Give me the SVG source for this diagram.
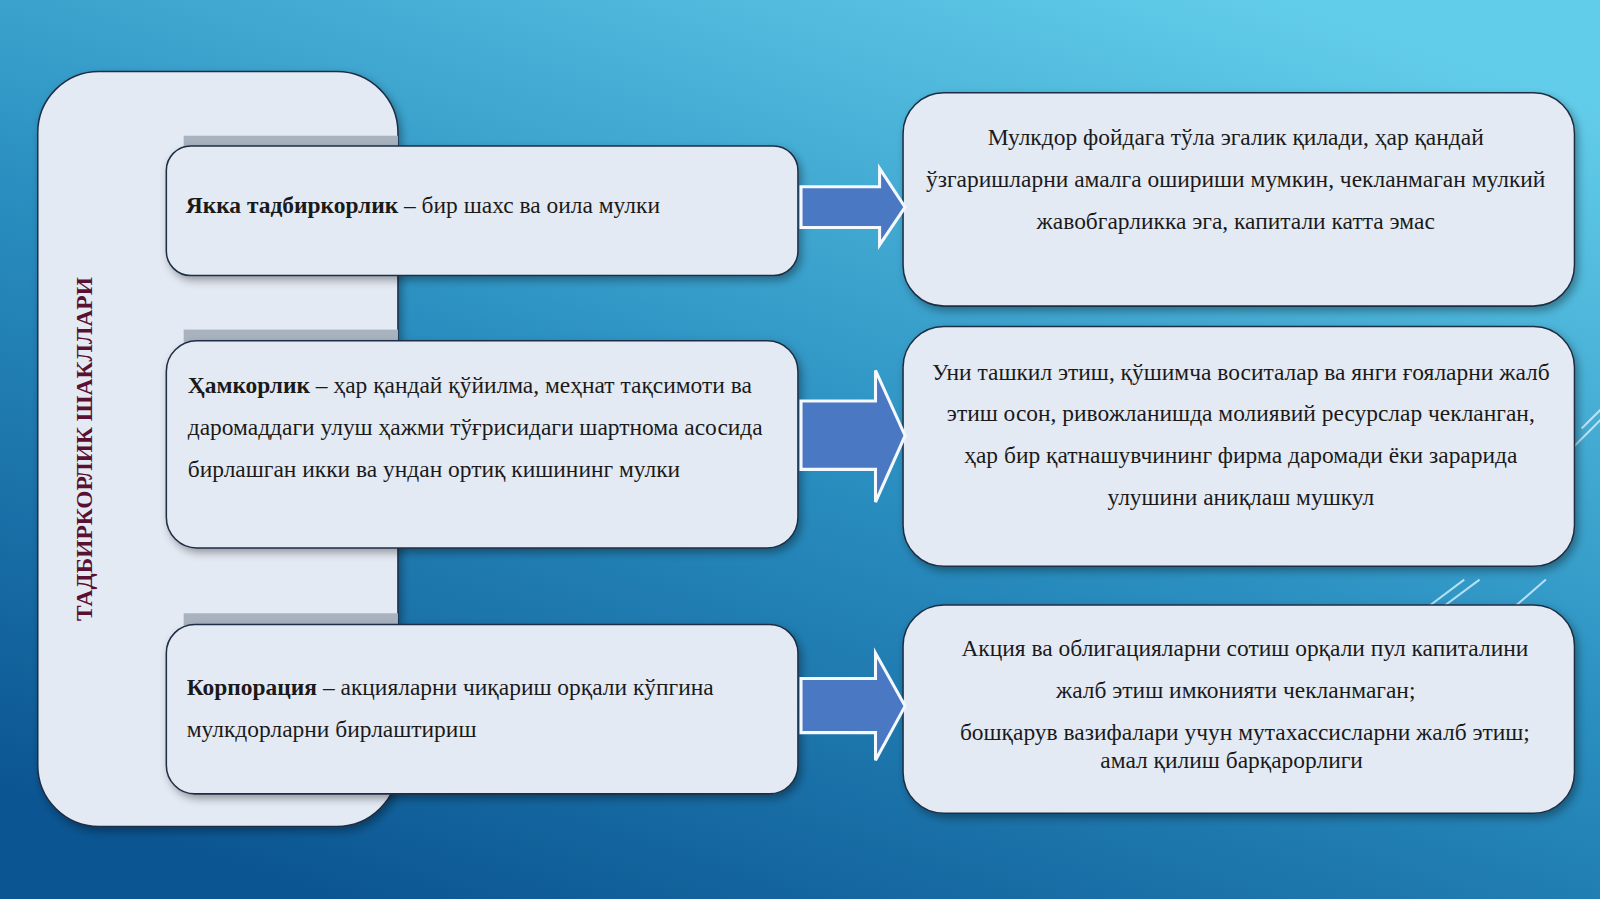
<svg xmlns="http://www.w3.org/2000/svg" width="1600" height="899" viewBox="0 0 1600 899">
<defs>
<linearGradient id="bg" x1="0.2" y1="1" x2="0.8" y2="0">
<stop offset="0" stop-color="#0b5592"/>
<stop offset="0.5" stop-color="#2a8fc0"/>
<stop offset="1" stop-color="#62cdea"/>
</linearGradient>
<filter id="sh" x="-10%" y="-10%" width="120%" height="120%"><feDropShadow dx="3" dy="4" stdDeviation="4" flood-color="#000" flood-opacity="0.35"/></filter>
</defs>
<style>
.box{fill:#e4eaf4;stroke:#1f2f45;stroke-width:1.5;filter:url(#sh)}
.arr{fill:#4b78c2;stroke:#f4f8ff;stroke-width:3}
text{font-family:"Liberation Serif","DejaVu Serif",serif;font-size:23px;fill:#1a1a1a}
.c{text-anchor:middle}
.deco{stroke:#d8f2ff;stroke-width:2;opacity:0.8}
</style>
<rect width="1600" height="899" fill="url(#bg)"/>
<g transform="scale(1.0204)">
<g id="decor">
<line class="deco" x1="1540" y1="440" x2="1600" y2="380"/>
<line class="deco" x1="1550" y1="420" x2="1600" y2="370"/>
<line class="deco" x1="1580" y1="470" x2="1600" y2="450"/>
<line class="deco" x1="1407" y1="600" x2="1450" y2="568"/>
<line class="deco" x1="1395" y1="598" x2="1435" y2="568"/>
<line class="deco" x1="1478" y1="600" x2="1515" y2="568"/>
</g>
<g id="left-panel">
<rect class="box" x="37" y="70" width="353" height="740" rx="60"/>
<rect x="180" y="133" width="210" height="12" fill="#a9b3c0"/>
<rect x="180" y="323" width="210" height="12" fill="#a9b3c0"/>
<rect x="180" y="601" width="210" height="12" fill="#a9b3c0"/>
<text transform="translate(90,440) rotate(-90)" class="c" style="font-weight:bold;fill:#5a1030;font-size:23px">ТАДБИРКОРЛИК ШАКЛЛАРИ</text>
</g>
<g id="node-yakka">
<rect class="box" x="163" y="143" width="619" height="127" rx="24"/>
<text x="182" y="209"><tspan font-weight="bold">Якка тадбиркорлик</tspan> – бир шахс ва оила мулки</text>
</g>
<g id="node-hamkorlik">
<rect class="box" x="163" y="334" width="619" height="203" rx="30"/>
<text x="184" y="385"><tspan font-weight="bold">Ҳамкорлик</tspan> – ҳар қандай қўйилма, меҳнат тақсимоти ва</text>
<text x="184" y="426">даромаддаги улуш ҳажми тўғрисидаги шартнома асосида</text>
<text x="184" y="467">бирлашган икки ва ундан ортиқ кишининг мулки</text>
</g>
<g id="node-korporatsiya">
<rect class="box" x="163" y="612" width="619" height="166" rx="28"/>
<text x="183" y="681"><tspan font-weight="bold">Корпорация</tspan> – акцияларни чиқариш орқали кўпгина</text>
<text x="183" y="722">мулкдорларни бирлаштириш</text>
</g>
<g id="node-r1">
<rect class="box" x="885" y="91" width="658" height="209" rx="40"/>
<text x="1211" y="142" class="c">Мулкдор фойдага тўла эгалик қилади, ҳар қандай</text>
<text x="1211" y="183" class="c">ўзгаришларни амалга ошириши мумкин, чекланмаган мулкий</text>
<text x="1211" y="224" class="c">жавобгарликка эга, капитали катта эмас</text>
</g>
<g id="node-r2">
<rect class="box" x="885" y="320" width="658" height="235" rx="40"/>
<text x="1216" y="372" class="c">Уни ташкил этиш, қўшимча воситалар ва янги ғояларни жалб</text>
<text x="1216" y="413" class="c">этиш осон, ривожланишда молиявий ресурслар чекланган,</text>
<text x="1216" y="454" class="c">ҳар бир қатнашувчининг фирма даромади ёки зарарида</text>
<text x="1216" y="495" class="c">улушини аниқлаш мушкул</text>
</g>
<g id="node-r3">
<rect class="box" x="885" y="593" width="658" height="204" rx="40"/>
<text x="1220" y="643" class="c">Акция ва облигацияларни сотиш орқали пул капиталини</text>
<text x="1211" y="684" class="c">жалб этиш имконияти чекланмаган;</text>
<text x="1220" y="725" class="c">бошқарув вазифалари учун мутахассисларни жалб этиш;</text>
<text x="1207" y="753" class="c">амал қилиш барқарорлиги</text>
</g>
<g id="connectors">
<path class="arr" d="M785,183 H862 V165 L887,203 L862,240 V223 H785 Z"/>
<path class="arr" d="M785,393 H858 V363 L887,427 L858,492 V460 H785 Z"/>
<path class="arr" d="M785,665 H858 V640 L887,692 L858,745 V718 H785 Z"/>
</g>
</g>
</svg>
